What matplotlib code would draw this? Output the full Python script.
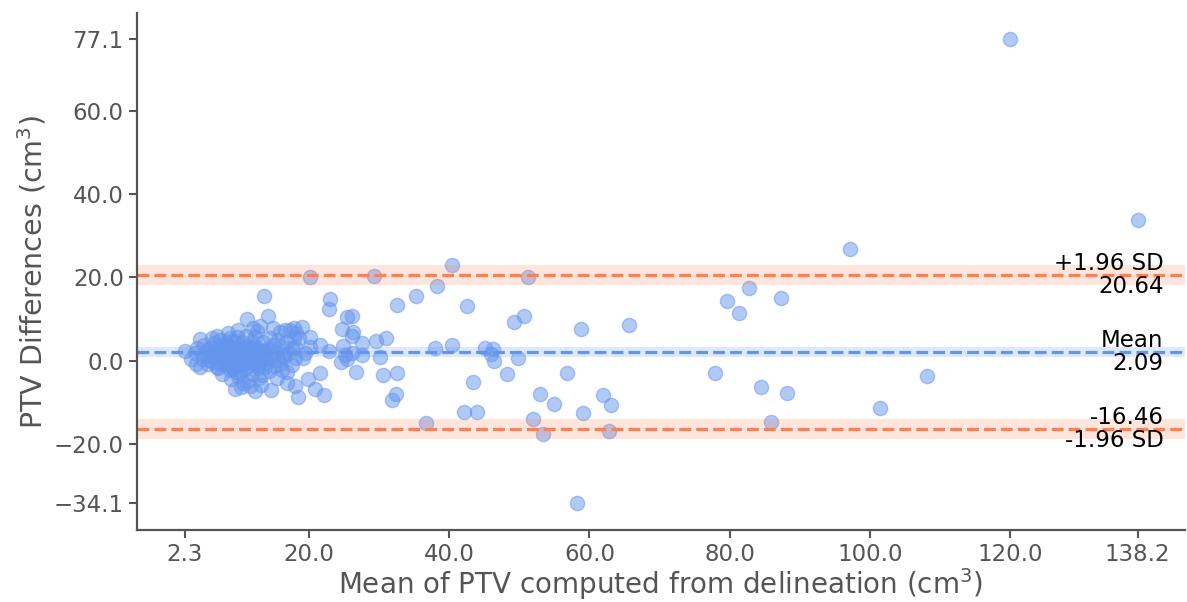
import matplotlib
matplotlib.use("Agg")
import matplotlib.pyplot as plt
from matplotlib.ticker import FuncFormatter

# Bland-Altman: mean of the two PTV volumes vs their difference (cm^3)
mean_vals = [
    # dense cluster, small volumes
    2.3, 3.7, 4.4, 4.5, 5.2, 5.4, 6.1, 6.3, 6.8, 7.0, 7.8, 7.8, 8.5, 8.7, 8.7, 8.8,
    9.6, 10.2, 10.2, 10.2, 10.2, 10.6, 11.1, 11.3, 12.3, 12.5, 13.0, 13.5, 14.2, 14.6,
    14.4, 15.8, 16.6, 17.8, 16.9, 16.8, 18.0, 16.1, 18.0, 16.3, 14.9, 15.6, 18.0, 13.7,
    16.1, 15.4, 12.8, 17.9, 18.6,
    3.1, 3.9, 4.0, 4.8, 5.0, 5.6, 5.8, 6.0, 6.5, 6.6, 6.9, 7.2, 7.3, 7.5, 7.6, 7.9,
    8.1, 8.2, 8.3, 8.4, 8.6, 8.9, 9.0, 9.1, 9.2, 9.3, 9.4, 9.6, 9.7, 9.8, 9.9, 10.0,
    10.4, 10.5, 10.7, 10.8, 10.9, 11.0, 11.2, 11.4, 11.5, 11.7, 11.8, 11.9, 12.0, 12.1,
    12.3, 12.4, 12.6, 12.7, 12.9, 13.1, 13.3, 13.4, 13.6, 13.8, 14.0, 14.3, 14.5, 14.8,
    15.0, 15.2, 15.5, 15.8, 16.4, 16.7, 17.2, 17.5, 17.6, 10.3, 9.4, 11.6, 12.0, 9.9,
    6.8, 14.9, 13.2,
    7.4, 7.7, 8.0, 8.3, 8.6, 8.8, 9.1, 9.5, 9.8, 10.1, 10.3, 10.6, 10.9, 11.3, 11.6,
    11.9, 12.2, 12.5, 12.8, 13.1, 7.1, 8.5, 9.3, 10.0, 10.8, 11.5, 12.2, 6.4, 5.7, 13.6,
    # 18 - 35
    18.4, 17.3, 18.2, 19.0, 19.2, 20.1, 29.3, 23.0, 22.9, 24.7, 25.4, 26.1, 26.2, 26.1,
    20.1, 21.6, 22.9, 24.9, 27.5, 29.6, 31.0, 25.1, 26.1, 24.5, 25.4, 27.5, 30.1, 20.1,
    19.4, 21.5, 19.9, 20.9, 22.1, 26.7, 30.5, 32.6, 31.8, 32.4, 32.6, 35.2,
    # larger volumes
    38.2, 40.4, 42.5, 51.3, 50.7, 49.3, 58.8, 65.6, 38.0, 40.4, 45.1, 46.3, 45.9, 46.4,
    49.8, 43.4, 48.3, 56.8, 52.9, 55.0, 42.1, 43.9, 36.7, 51.9, 53.3, 59.1, 61.9, 63.0,
    62.8, 58.2, 77.9, 79.6, 81.4, 82.7, 87.3, 84.4, 88.2, 85.9, 120.0, 138.2, 97.2,
    108.1, 101.4,
]
diff_vals = [
    2.3, 1.75, 5.1, -1.6, 1.75, 2.5, 5.5, -0.25, -1.5, -1.85, 3.7, 0.95, 6.7, 5.35, -2.25, -4.4,
    -2.65, 3.7, 1.3, -1.05, -3.0, -5.3, 9.9, -4.9, -7.3, 7.0, 8.2, 15.4, 10.6, -7.05,
    5.35, 6.9, 7.35, 7.9, -2.8, -5.4, -6.0, 3.35, 3.35, 1.35, 1.35, 0.15, 0.55, -1.45,
    -2.25, -4.25, -4.25, 5.3, 5.3,
    0.5, -0.8, 2.9, 0.3, 3.8, -0.9, 1.2, 3.0, 4.2, 0.8, 2.2, -0.6, 5.0, 1.6, -3.1, 2.8,
    -1.0, 4.4, 0.2, 2.0, -0.6, 3.1, 1.1, -1.8, 4.6, 0.4, 2.4, -0.3, 5.6, 1.7, -3.6, 3.0,
    0.5, 4.5, 2.2, -0.5, -2.1, 6.0, 1.2, 3.2, -1.4, 0.2, 4.4, -3.1, 2.0, -0.6,
    5.6, 1.0, 3.0, -1.8, 0.0, 2.4, -3.4, 4.4, 1.0, -0.5, 2.8, -2.6, 0.3, 3.8,
    -1.2, 2.0, 5.0, -0.8, 0.8, 4.5, 1.8, -1.0, 3.0, -6.4, -6.8, -6.0, 7.8, 7.3,
    6.0, 7.9, -5.8,
    1.4, -0.2, 2.6, 1.0, 3.4, -1.2, 0.8, 2.2, -0.9, 1.9, 0.1, 3.1, 0.9, 1.6, -0.3,
    2.7, 0.6, -1.1, 1.8, 0.4, 3.3, 1.5, -0.4, 0.7, 2.5, 1.4, 3.6, 1.9, 0.1, 2.2,
    # 18 - 35
    -8.8, 7.35, 6.55, 8.0, 0.55, 20.1, 20.4, 14.7, 12.3, 7.5, 10.4, 10.7, 6.9, 5.9,
    5.6, 3.7, 2.4, 3.5, 4.15, 4.8, 5.35, 1.3, 1.75, -0.25, 0.3, 1.3, 0.9, 3.3,
    1.75, -2.9, -4.5, -6.9, -8.25, -2.65, -3.45, -3.05, -9.45, -8.0, 13.4, 15.6,
    # larger volumes
    17.9, 22.9, 13.1, 20.1, 10.8, 9.3, 7.5, 8.5, 3.0, 3.7, 2.9, 2.8, 1.6, 0.0,
    0.6, -5.2, -3.2, -2.9, -7.9, -10.4, -12.3, -12.3, -14.9, -14.0, -17.7, -12.5, -8.3, -10.7,
    -16.8, -34.1, -2.9, 14.4, 11.35, 17.35, 14.9, -6.3, -7.7, -14.7, 77.1, 33.7, 26.8,
    -3.7, -11.3,
]

bias = 2.09
upper_loa = 20.64
lower_loa = -16.46
bias_ci = (0.96, 3.35)
upper_ci = (18.2, 23.0)
lower_ci = (-18.9, -14.1)

x_ticks = [2.3, 20, 40, 60, 80, 100, 120, 138.2]
y_ticks = [-34.1, -20, 0, 20, 40, 60, 77.1]

point_col = '#6495ED'
mean_col = '#6495ED'
loa_col = '#FF7F50'
grey = '#555555'

fig = plt.figure(figsize=(11.87, 6.02), dpi=100)
ax = fig.add_axes([0.1154, 0.1196, 0.8826, 0.8588])

ax.scatter(mean_vals, diff_vals, s=105, c=point_col, alpha=0.5)

ax.axhspan(bias_ci[0], bias_ci[1], facecolor=mean_col, alpha=0.2)
ax.axhspan(upper_ci[0], upper_ci[1], facecolor=loa_col, alpha=0.2)
ax.axhspan(lower_ci[0], lower_ci[1], facecolor=loa_col, alpha=0.2)
ax.axhline(bias, color=mean_col, lw=2.3, ls='--')
ax.axhline(upper_loa, color=loa_col, lw=2.3, ls='--')
ax.axhline(lower_loa, color=loa_col, lw=2.3, ls='--')

trans = ax.get_yaxis_transform()
fs = 16.5
ax.text(0.98, upper_loa, '+1.96 SD', ha='right', va='bottom', transform=trans, fontsize=fs)
ax.text(0.98, upper_loa, '%.2f' % upper_loa, ha='right', va='top', transform=trans, fontsize=fs)
ax.text(0.98, bias, 'Mean', ha='right', va='bottom', transform=trans, fontsize=fs)
ax.text(0.98, bias, '%.2f' % bias, ha='right', va='top', transform=trans, fontsize=fs)
ax.text(0.98, lower_loa, '%.2f' % lower_loa, ha='right', va='bottom', transform=trans, fontsize=fs)
ax.text(0.98, lower_loa, '-1.96 SD', ha='right', va='top', transform=trans, fontsize=fs)

ax.set_xlim(-4.55, 144.9)
ax.set_ylim(-40.65, 83.4)
ax.set_xticks(x_ticks)
ax.set_yticks(y_ticks)
fmt = FuncFormatter(lambda v, p: ('%.1f' % v).replace('-', '\u2212'))
ax.xaxis.set_major_formatter(fmt)
ax.yaxis.set_major_formatter(fmt)

for side in ['top', 'right']:
    ax.spines[side].set_visible(False)
for side in ['left', 'bottom']:
    ax.spines[side].set_color(grey)
    ax.spines[side].set_linewidth(1.6)
ax.tick_params(colors=grey, labelsize=16.5, length=6, width=1.5, labelcolor=grey)

ax.set_xlabel('Mean of PTV computed from delineation (cm$^3$)', fontsize=20, color=grey, labelpad=0)
ax.set_ylabel('PTV Differences (cm$^3$)', fontsize=20.5, color=grey)

fig.savefig('out.png', dpi=100)
